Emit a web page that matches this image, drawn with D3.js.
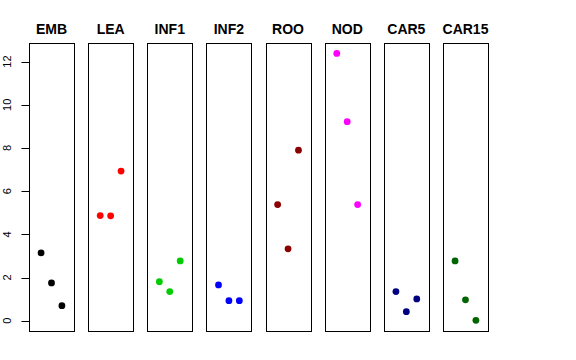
<!DOCTYPE html>
<html>
<head>
<meta charset="utf-8">
<script src="https://cdn.jsdelivr.net/npm/d3@7"></script>
<style>
  html, body { margin: 0; padding: 0; background: #fff; }
  svg { display: block; font-family: "Liberation Sans", Arial, Helvetica, sans-serif; }
</style>
</head>
<body>
<svg id="chart" width="576" height="360"></svg>
<script>
const categories = ["EMB", "LEA", "INF1", "INF2", "ROO", "NOD", "CAR5", "CAR15"];
const replicates = [1, 2, 3];
const valuesEMB   = [3.14, 1.75, 0.70];
const valuesLEA   = [4.87, 4.86, 6.93];
const valuesINF1  = [1.81, 1.35, 2.77];
const valuesINF2  = [1.66, 0.93, 0.93];
const valuesROO   = [5.38, 3.33, 7.90];
const valuesNOD   = [12.38, 9.22, 5.38];
const valuesCAR5  = [1.35, 0.42, 1.01];
const valuesCAR15 = [2.77, 0.97, 0.02];
const colors = ["#000000", "#FF0000", "#00CD00", "#0000FF", "#8B0000", "#FF00FF", "#000080", "#006400"];
const yTicks = [0, 2, 4, 6, 8, 10, 12];

const series = [valuesEMB, valuesLEA, valuesINF1, valuesINF2, valuesROO, valuesNOD, valuesCAR5, valuesCAR15];

const svg = d3.select("#chart");
const panelLeft = 29, panelStep = 59.14, panelW = 45;
const plotTop = 42.7, plotBottom = 331;

const all = series.flat();
const ymin = d3.min(all), ymax = d3.max(all);
const ext = (ymax - ymin) * 0.04;
const y = d3.scaleLinear().domain([ymin - ext, ymax + ext]).range([plotBottom, plotTop]);

const xa = 0, xb = 4, xext = (xb - xa) * 0.04;

categories.forEach((cat, i) => {
  const x0 = panelLeft + i * panelStep;
  const x = d3.scaleLinear().domain([xa - xext, xb + xext]).range([x0, x0 + panelW]);
  const g = svg.append("g");
  g.append("rect")
    .attr("x", Math.round(x0) + 0.5).attr("y", Math.round(plotTop) + 0.5)
    .attr("width", panelW).attr("height", Math.round(plotBottom - plotTop))
    .attr("fill", "none").attr("stroke", "#000").attr("stroke-width", 1);
  g.selectAll("circle").data(series[i]).enter().append("circle")
    .attr("cx", (d, j) => x(replicates[j]))
    .attr("cy", d => y(d))
    .attr("r", 3.4)
    .attr("fill", colors[i]);
  g.append("text")
    .attr("x", x0 + panelW / 2).attr("y", 34)
    .attr("text-anchor", "middle")
    .attr("font-weight", "bold").attr("font-size", 14)
    .text(cat);
});

// Y axis on the first panel
const axisX = Math.round(panelLeft) + 0.5;
const ay = svg.append("g");
ay.append("line")
  .attr("x1", axisX).attr("x2", axisX)
  .attr("y1", y(0)).attr("y2", y(12))
  .attr("stroke", "#000");
yTicks.forEach(t => {
  ay.append("line")
    .attr("x1", axisX - 8).attr("x2", axisX)
    .attr("y1", Math.round(y(t)) + 0.5).attr("y2", Math.round(y(t)) + 0.5)
    .attr("stroke", "#000");
  ay.append("text")
    .attr("transform", `translate(${11},${y(t)}) rotate(-90)`)
    .attr("text-anchor", "middle")
    .attr("font-size", 11)
    .text(t);
});
</script>
</body>
</html>
